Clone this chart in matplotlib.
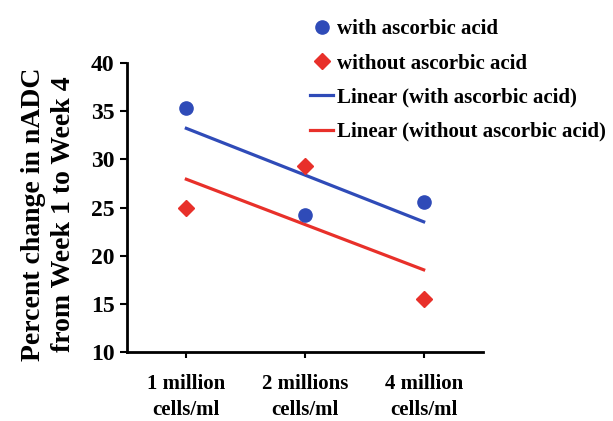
import matplotlib
matplotlib.use("Agg")
import matplotlib.pyplot as plt
import numpy as np

plt.rcParams['font.family'] = ['Liberation Serif', 'DejaVu Serif']
plt.rcParams['font.weight'] = 'bold'

categories = ["1 million\ncells/ml", "2 millions\ncells/ml", "4 million\ncells/ml"]
with_aa = [35.3, 24.2, 25.6]
without_aa = [24.9, 29.3, 15.5]
yticks = [10, 15, 20, 25, 30, 35, 40]

blue = '#2f4bb8'
red = '#e8302a'

x = np.arange(1, len(categories) + 1)

fig = plt.figure(figsize=(6.13, 4.21), dpi=100)
ax = fig.add_axes([127 / 613, 1 - 352 / 421, (483 - 127) / 613, (352 - 63) / 421])

ax.plot(x, with_aa, 'o', color=blue, markersize=9.5, label='with ascorbic acid', zorder=3)
ax.plot(x, without_aa, 'D', color=red, markersize=8.5, label='without ascorbic acid', zorder=3)

# linear trendlines, as in the spreadsheet
pb = np.polyfit(x, with_aa, 1)
pr = np.polyfit(x, without_aa, 1)
ax.plot(x, np.polyval(pb, x), color=blue, lw=2.3, label='Linear (with ascorbic acid)')
ax.plot(x, np.polyval(pr, x), color=red, lw=2.3, label='Linear (without ascorbic acid)')

ax.set_xlim(0.5, 3.5)
ax.set_ylim(10, 40)
ax.set_yticks(yticks)
ax.set_xticks(x)
ax.set_xticklabels(categories, fontsize=15, fontweight='bold', linespacing=1.4)
ax.tick_params(axis='y', labelsize=17, length=5, width=1.5, pad=4)
ax.tick_params(axis='x', length=4, width=1.5, pad=12)
for s in ['top', 'right']:
    ax.spines[s].set_visible(False)
for s in ['left', 'bottom']:
    ax.spines[s].set_linewidth(2)

ax.set_ylabel("Percent change in nADC\nfrom Week 1 to Week 4", fontsize=20,
              fontweight='bold', linespacing=1.25)
ax.yaxis.set_label_coords(-0.143, 0.478)

leg = fig.legend(loc='upper left', bbox_to_anchor=(302 / 613, 1 - 11 / 421),
                 frameon=False, handlelength=1.1, handletextpad=0.2,
                 labelspacing=0.68, borderaxespad=0, prop={'weight': 'bold', 'size': 15})

fig.savefig('out.png', dpi=100)
